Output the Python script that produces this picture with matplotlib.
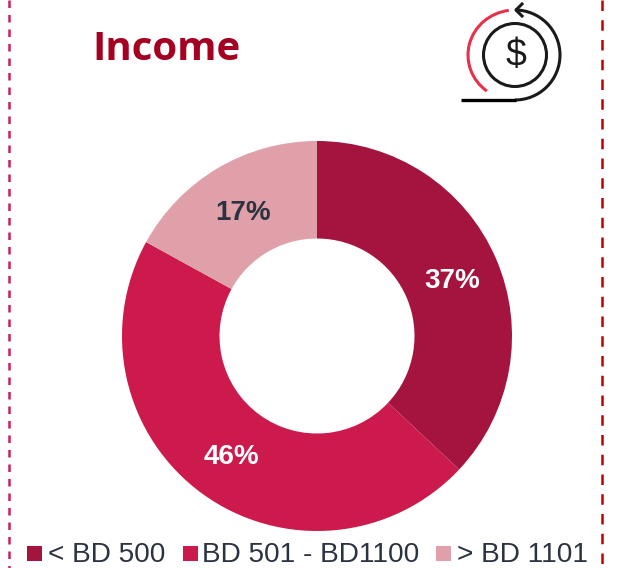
import matplotlib
matplotlib.use('Agg')
import matplotlib.pyplot as plt
from matplotlib.patches import Arc, Circle, Rectangle

# data
labels = ['< BD 500', 'BD 501 - BD1100', '> BD 1101']
values = [37, 46, 17]
colors = ['#a5143f', '#cb1a4b', '#dfa0a9']
pct_colors = ['white', 'white', '#2b3240']

W, H = 618, 568
fig = plt.figure(figsize=(W / 100, H / 100), dpi=100)

# overlay in pixel coordinates for the page decoration
bg = fig.add_axes([0, 0, 1, 1])
bg.set_xlim(0, W)
bg.set_ylim(H, 0)
bg.axis('off')

# dashed side lines
bg.plot([9, 9], [0, H], color='#cc1f55', lw=1.8, dashes=(3.0, 2.8))
bg.plot([602, 602], [0, H], color='#c00000', lw=1.8, dashes=(4.2, 3.7))

bg.text(92, 60, 'Income', color='#a50021', fontsize=29, fontweight='bold',
        family='Open Sans', ha='left', va='baseline')

# income icon
black = '#1a1a1a'
bg.add_patch(Circle((515, 55), 31.5, fill=False, ec=black, lw=2.2))
bg.add_patch(Arc((515, 55), 90, 90, theta1=-90, theta2=90, ec=black, lw=2.2))
bg.add_patch(Arc((515, 55), 94, 90, theta1=128, theta2=262, ec='#e8304a', lw=2.2))
bg.plot([461, 516], [100, 100], color='black', lw=2.4, solid_capstyle='butt')
bg.plot([522, 516, 522], [4, 10, 16], color=black, lw=2.2)
bg.text(515.5, 56, '$', color=black, fontsize=27, family='Liberation Sans',
        ha='center', va='center')

# donut
ax = fig.add_axes([(317 - 195) / W, 1 - (336 + 195) / H, 390 / W, 390 / H])
wedges, _, pcts = ax.pie(values, colors=colors, startangle=90, counterclock=False,
                         radius=1, autopct='%d%%', pctdistance=0.75,
                         wedgeprops={'width': 0.5, 'edgecolor': 'none'})
for t, c in zip(pcts, pct_colors):
    t.set_color(c)
    t.set_fontsize(20)
    t.set_fontweight('bold')
    t.set_family('Liberation Sans')
    t.set_x(t.get_position()[0] + 0.004)
    t.set_y(t.get_position()[1] - 0.015)
ax.set_xlim(-1, 1)
ax.set_ylim(-1, 1)

# legend drawn by hand to hit the spacing
box_x = [27, 183, 436]
text_x = [48, 202, 457]
for lab, c, bx, tx in zip(labels, colors, box_x, text_x):
    bg.add_patch(Rectangle((bx, 546), 15, 15, color=c, lw=0))
    bg.text(tx, 562, lab, color='#2b3240', fontsize=20.2, family='Liberation Sans',
            ha='left', va='baseline')

fig.savefig('out.png', dpi=100)
